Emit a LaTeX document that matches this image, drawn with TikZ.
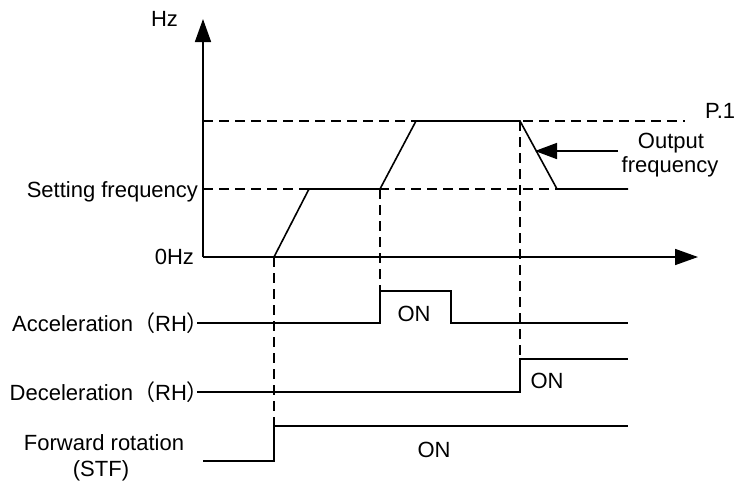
\documentclass[tikz,border=0pt]{standalone}
\usepackage{fontspec}
\setmainfont{Liberation Sans}
\newfontfamily\cjk{Noto Sans CJK SC}
\usetikzlibrary{arrows.meta}
\begin{document}
\begin{tikzpicture}[x=1pt,y=-1pt,
  every node/.style={inner sep=0pt,outer sep=0pt,font=\fontsize{22}{26}\selectfont},
  wave/.style={line width=1.6pt},
  guide/.style={line width=1.6pt,dash pattern=on 10pt off 6pt},
  axis/.style={line width=1.6pt,-{Triangle[length=23pt,width=16pt]}},
  pointer/.style={line width=1.6pt,-{Triangle[length=22pt,width=16pt]}}]
\useasboundingbox (0,0) rectangle (740,485);
% named points
\coordinate (o) at (203,257);
\coordinate (ytip) at (203,19);
\coordinate (xtip) at (698,257);
% frequency curve points
\coordinate (f0) at (274,257);
\coordinate (f1) at (309,189);
\coordinate (f2) at (380,189);
\coordinate (f3) at (416,121);
\coordinate (f4) at (520,121);
\coordinate (f5) at (557,189);
\coordinate (f6) at (628,189);
% guides
\coordinate (p1a) at (203,121);
\coordinate (p1b) at (685,121);
\coordinate (sfa) at (203,189);
% axes
\draw[axis] (o) -- (ytip);
\draw[axis] (o) -- (xtip);
% dashed guides
\draw[guide] (p1a) -- (p1b);
\draw[guide] (sfa) -- (f5);
\draw[guide] (f0) -- (274,426);
\draw[guide] (f2) -- (380,291);
\draw[guide] (f4) -- (520,359);
% frequency curve
\draw[wave,line join=miter] (f0) -- (f1) -- (f2) -- (f3) -- (f4) -- (f5) -- (f6);
% output frequency pointer
\coordinate (pa) at (618,151);
\coordinate (pb) at (535,151);
\draw[pointer] (pa) -- (pb);
% signals
\draw[wave] (197,323) -- (380,323) -- (380,291) -- (451,291) -- (451,323) -- (628,323);
\draw[wave] (197,392) -- (520,392) -- (520,359) -- (628,359);
\draw[wave] (203,461) -- (274,461) -- (274,426) -- (628,426);
% labels
\node[anchor=base west] (hz) at (151,26) {Hz};
\node[anchor=base east] (sf) at (198,197) {Setting frequency};
\node[anchor=base east] (zero) at (194,264) {0Hz};
\node[anchor=base west] (p1) at (705,118) {P.1};
\node[anchor=base] (out1) at (671,148) {Output};
\node[anchor=base] (out2) at (670,172) {frequency};
\node[anchor=base east] (acc) at (209,331) {Acceleration{\cjk （}RH{\cjk ）}};
\node[anchor=base east] (dec) at (209,400) {Deceleration{\cjk （}RH{\cjk ）}};
\node[anchor=base] (fw1) at (104,450) {Forward rotation};
\node[anchor=base] (fw2) at (101,476) {(STF)};
\node[anchor=base] (on1) at (414,321) {ON};
\node[anchor=base] (on2) at (547,388) {ON};
\node[anchor=base] (on3) at (434,457) {ON};
\end{tikzpicture}
\end{document}
